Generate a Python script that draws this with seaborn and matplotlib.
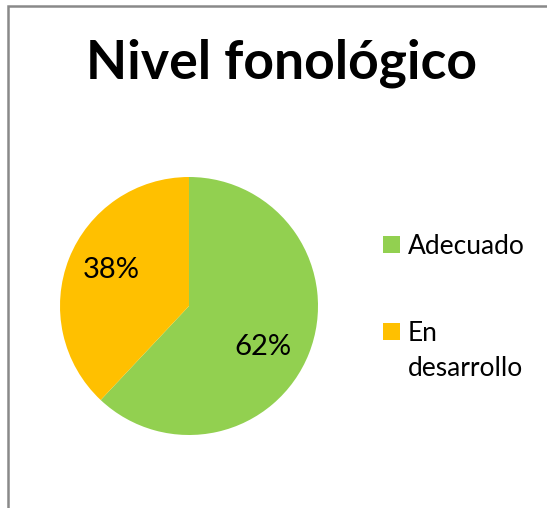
import matplotlib
matplotlib.use("Agg")
import matplotlib.pyplot as plt
import seaborn as sns
from matplotlib.patches import Rectangle

sns.set_theme(style="white")
plt.rcParams['font.family'] = ['Lato', 'DejaVu Sans']

title = "Nivel fonológico"
categories = ["Adecuado", "En\ndesarrollo"]
values = [62, 38]
colors = ["#92D050", "#FFC000"]

W, H = 547, 508
fig = plt.figure(figsize=(W / 100, H / 100), dpi=100)
fig.patch.set_facecolor("white")

# outer chart border (left and top visible)
fig.add_artist(Rectangle((8 / W, -0.1), 1.2, (H - 6) / H + 0.1, transform=fig.transFigure,
                         fill=False, edgecolor="#898989", linewidth=1.8))

ax = fig.add_axes([60 / W, (H - 435) / H, 258 / W, 258 / H])
wedges, texts, autotexts = ax.pie(values, colors=colors, startangle=90, counterclock=False,
                                  autopct=lambda p: f"{p:.0f}%", pctdistance=0.66,
                                  textprops=dict(fontsize=21, color="black"),
                                  wedgeprops=dict(linewidth=0))
label_pos = [(0.574, -0.318), (-0.605, 0.279)]
for t, p in zip(autotexts, label_pos):
    t.set_position(p)
ax.set_xlim(-1, 1)
ax.set_ylim(-1, 1)
ax.set_aspect("equal")
ax.axis("off")

fig.text(281 / W, 1 - 63 / H, title, ha="center", va="center", fontsize=38.5,
         fontweight="bold", color="black")

# legend (manual, Excel-style: marker aligned with first line)
legend_tops = [236, 323]
for c, lab, top in zip(colors, categories, legend_tops):
    fig.add_artist(Rectangle((383 / W, 1 - (top + 17) / H), 17 / W, 17 / H,
                             transform=fig.transFigure, facecolor=c, edgecolor="none"))
    for i, line in enumerate(lab.split("\n")):
        fig.text(408 / W, 1 - (top + 18 + 35 * i) / H, line, ha="left", va="baseline",
                 fontsize=19, color="black")

fig.savefig("out.png", dpi=100, facecolor="white")
